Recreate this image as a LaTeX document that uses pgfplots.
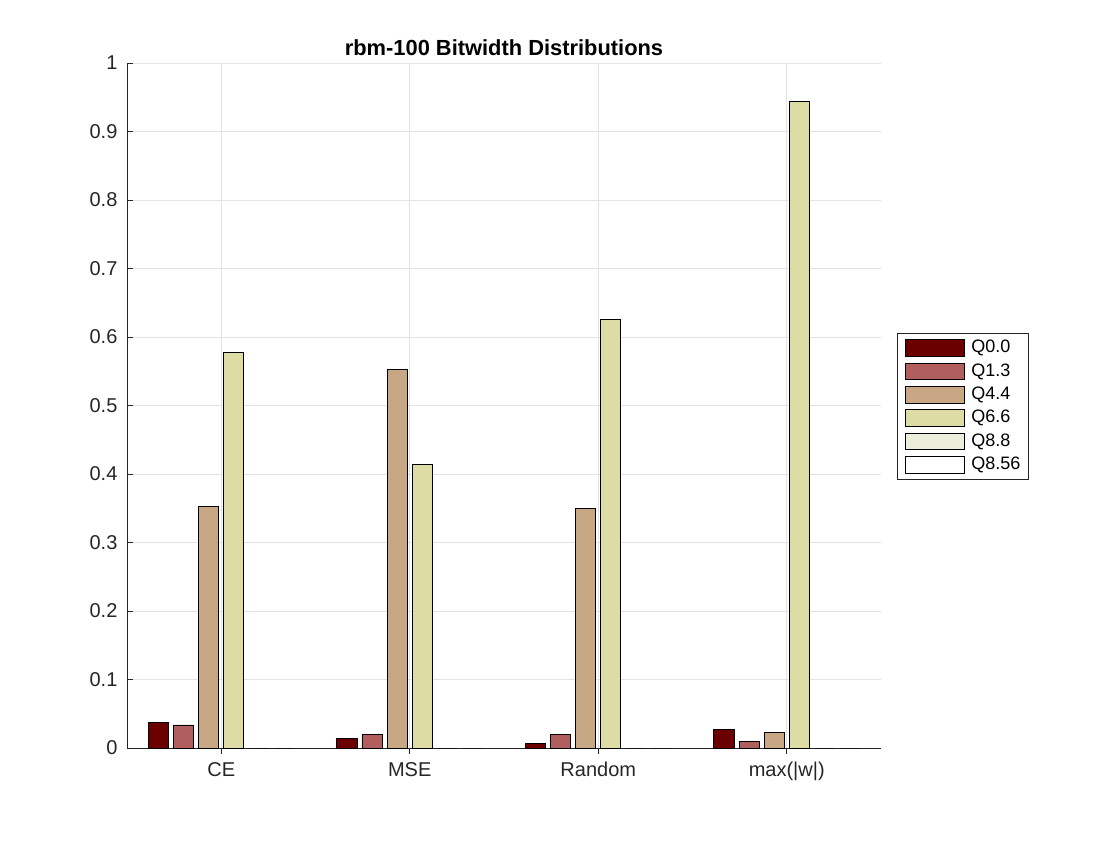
\documentclass[border=0pt]{standalone}
\usepackage{pgfplots}
\usepackage{pgfplotstable}
\pgfplotsset{compat=1.18}
\usepackage{fontspec}
\setmainfont{Liberation Sans}

\definecolor{qa}{RGB}{106,0,0}
\definecolor{qb}{RGB}{176,94,94}
\definecolor{qc}{RGB}{200,168,132}
\definecolor{qd}{RGB}{220,220,164}
\definecolor{qe}{RGB}{237,237,220}
\definecolor{qf}{RGB}{255,255,255}
\definecolor{axisdark}{RGB}{38,38,38}

% share of layers per bitwidth, one row per method
\pgfplotstableread{
x  Q00    Q13    Q44    Q66    Q88 Q856
1  0.0375 0.0336 0.3523 0.5777 0   0
2  0.0146 0.0200 0.5528 0.4142 0   0
3  0.0060 0.0200 0.3499 0.6258 0   0
4  0.0270 0.0100 0.0230 0.9435 0   0
}\bitwidths

\begin{document}
\begin{tikzpicture}
\path (0,0) rectangle (840pt,630pt);
\begin{axis}[
  at={(95.25pt,69pt)}, anchor=south west,
  scale only axis, width=565.5pt, height=513.75pt,
  xmin=0.5, xmax=4.5, ymin=0, ymax=1,
  xtick={1,2,3,4},
  xticklabels={CE,MSE,Random,{max(|w|)}},
  ytick={0,0.1,0.2,0.3,0.4,0.5,0.6,0.7,0.8,0.9,1},
  yticklabels={0,0.1,0.2,0.3,0.4,0.5,0.6,0.7,0.8,0.9,1},
  ticklabel style={font=\fontsize{15}{18}\selectfont, text=axisdark},
  xticklabel style={inner sep=0pt, text height=10.7pt, text depth=3pt, yshift=-5.8pt},
  yticklabel style={inner sep=0pt, xshift=-7pt},
  axis x line*=bottom, axis y line*=left,
  axis line style={draw=axisdark, line width=0.6pt},
  tick style={draw=axisdark, line width=0.6pt},
  tick align=inside, major tick length=4.5pt,
  grid=major, major grid style={draw=black!11, line width=0.5pt},
  title={rbm-100 Bitwidth Distributions},
  title style={font=\fontsize{16.4}{19}\selectfont\bfseries, inner sep=0pt, yshift=-1pt},
  ybar, bar width=0.1067,
  every axis plot/.append style={draw=black, line width=0.6pt},
  legend image code/.code={\draw[#1, draw=black, line width=0.6pt] (0pt,-6.25pt) rectangle (44pt,6.25pt);},
  legend style={at={(rel axis cs:1.021,0.606)}, anchor=north west,
    draw=axisdark, line width=0.6pt,
    font=\fontsize{13.5}{16}\selectfont,
    inner xsep=6pt, inner ysep=4.5pt,
    nodes={inner sep=0pt, text height=10pt, text depth=3pt},
    row sep=4.4pt,
    /tikz/every odd column/.append style={column sep=5pt},
    cells={anchor=west}},
]
\addplot[fill=qa, bar shift=-0.33333] table[x=x, y=Q00] {\bitwidths};
\addplot[fill=qb, bar shift=-0.2] table[x=x, y=Q13] {\bitwidths};
\addplot[fill=qc, bar shift=-0.066667] table[x=x, y=Q44] {\bitwidths};
\addplot[fill=qd, bar shift=0.066667] table[x=x, y=Q66] {\bitwidths};
\addplot[fill=qe, bar shift=0.2] table[x=x, y=Q88] {\bitwidths};
\addplot[fill=qf, bar shift=0.33333] table[x=x, y=Q856] {\bitwidths};
\legend{Q0.0,Q1.3,Q4.4,Q6.6,Q8.8,Q8.56}
\end{axis}
\end{tikzpicture}
\end{document}
